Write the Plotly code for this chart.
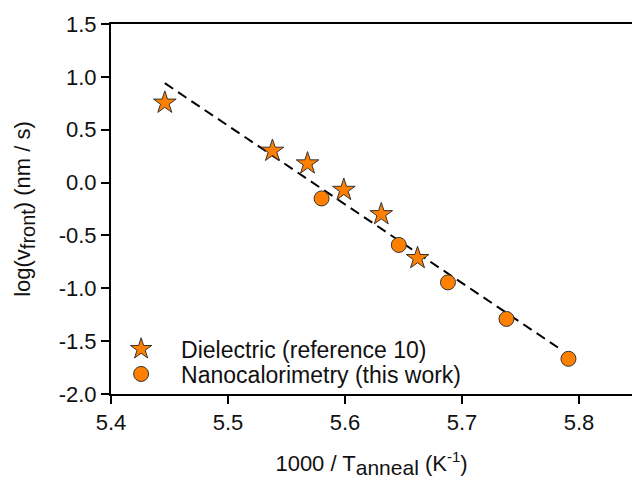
import plotly.graph_objects as go

# Data
diel_x = [5.446, 5.538, 5.568, 5.599, 5.631, 5.662]
diel_y = [0.755, 0.30, 0.18, -0.07, -0.30, -0.715]
nano_x = [5.580, 5.646, 5.688, 5.738, 5.791]
nano_y = [-0.15, -0.59, -0.944, -1.29, -1.667]
fit_x = [5.446, 5.782]
fit_y = [0.94, -1.56]

x_ticks = [5.4, 5.5, 5.6, 5.7, 5.8]
y_ticks = [-2.0, -1.5, -1.0, -0.5, 0.0, 0.5, 1.0, 1.5]

orange = "#FF8000"
font = "Liberation Sans, Arial, sans-serif"

fig = go.Figure()
fig.add_trace(go.Scatter(x=fit_x, y=fit_y, mode="lines", showlegend=False,
                         line=dict(color="black", width=2, dash="10px,6px")))
fig.add_trace(go.Scatter(x=diel_x, y=diel_y, mode="markers",
                         name="Dielectric (reference 10)", legend="legend",
                         marker=dict(symbol="star", size=17, color=orange,
                                     line=dict(color="#333333", width=1))))
fig.add_trace(go.Scatter(x=nano_x, y=nano_y, mode="markers",
                         name="Nanocalorimetry (this work)", legend="legend2",
                         marker=dict(symbol="circle", size=15, color=orange,
                                     line=dict(color="#333333", width=1))))

leg_common = dict(xanchor="left", yanchor="middle", bgcolor="rgba(0,0,0,0)",
                  itemwidth=70, font=dict(size=23), borderwidth=0)

fig.update_layout(
    width=632, height=481,
    margin=dict(l=111, r=0, t=24, b=87),
    paper_bgcolor="white", plot_bgcolor="white",
    font=dict(family=font, size=22, color="#111111"),
    legend=dict(x=-0.019, y=(394 - 349) / 370, **leg_common),
    legend2=dict(x=-0.019, y=(394 - 374) / 370, **leg_common),
    xaxis=dict(range=[5.4, 5.8453], tickvals=x_ticks,
               ticktext=[f"{v:.1f}" for v in x_ticks],
               showgrid=False, zeroline=False, showline=True,
               linecolor="black", linewidth=2, mirror=True,
               ticks="outside", ticklen=8, tickwidth=2, tickcolor="black",
               title=dict(text="1000 / T<sub><span style='font-size:21px'>anneal</span></sub> (K<sup><span style='font-size:15px'>-1</span></sup>)",
                          font=dict(size=22), standoff=21)),
    yaxis=dict(range=[-2.0, 1.5], tickvals=y_ticks,
               ticktext=[f"{v:.1f}" for v in y_ticks],
               showgrid=False, zeroline=False, showline=True,
               linecolor="black", linewidth=2, mirror=False,
               ticks="outside", ticklen=8, tickwidth=2, tickcolor="black",
               title=dict(text="log(v<sub><span style='font-size:20px'>front</span></sub>) (nm / s)",
                          font=dict(size=22), standoff=22)),
)

fig.write_html("out.html")
